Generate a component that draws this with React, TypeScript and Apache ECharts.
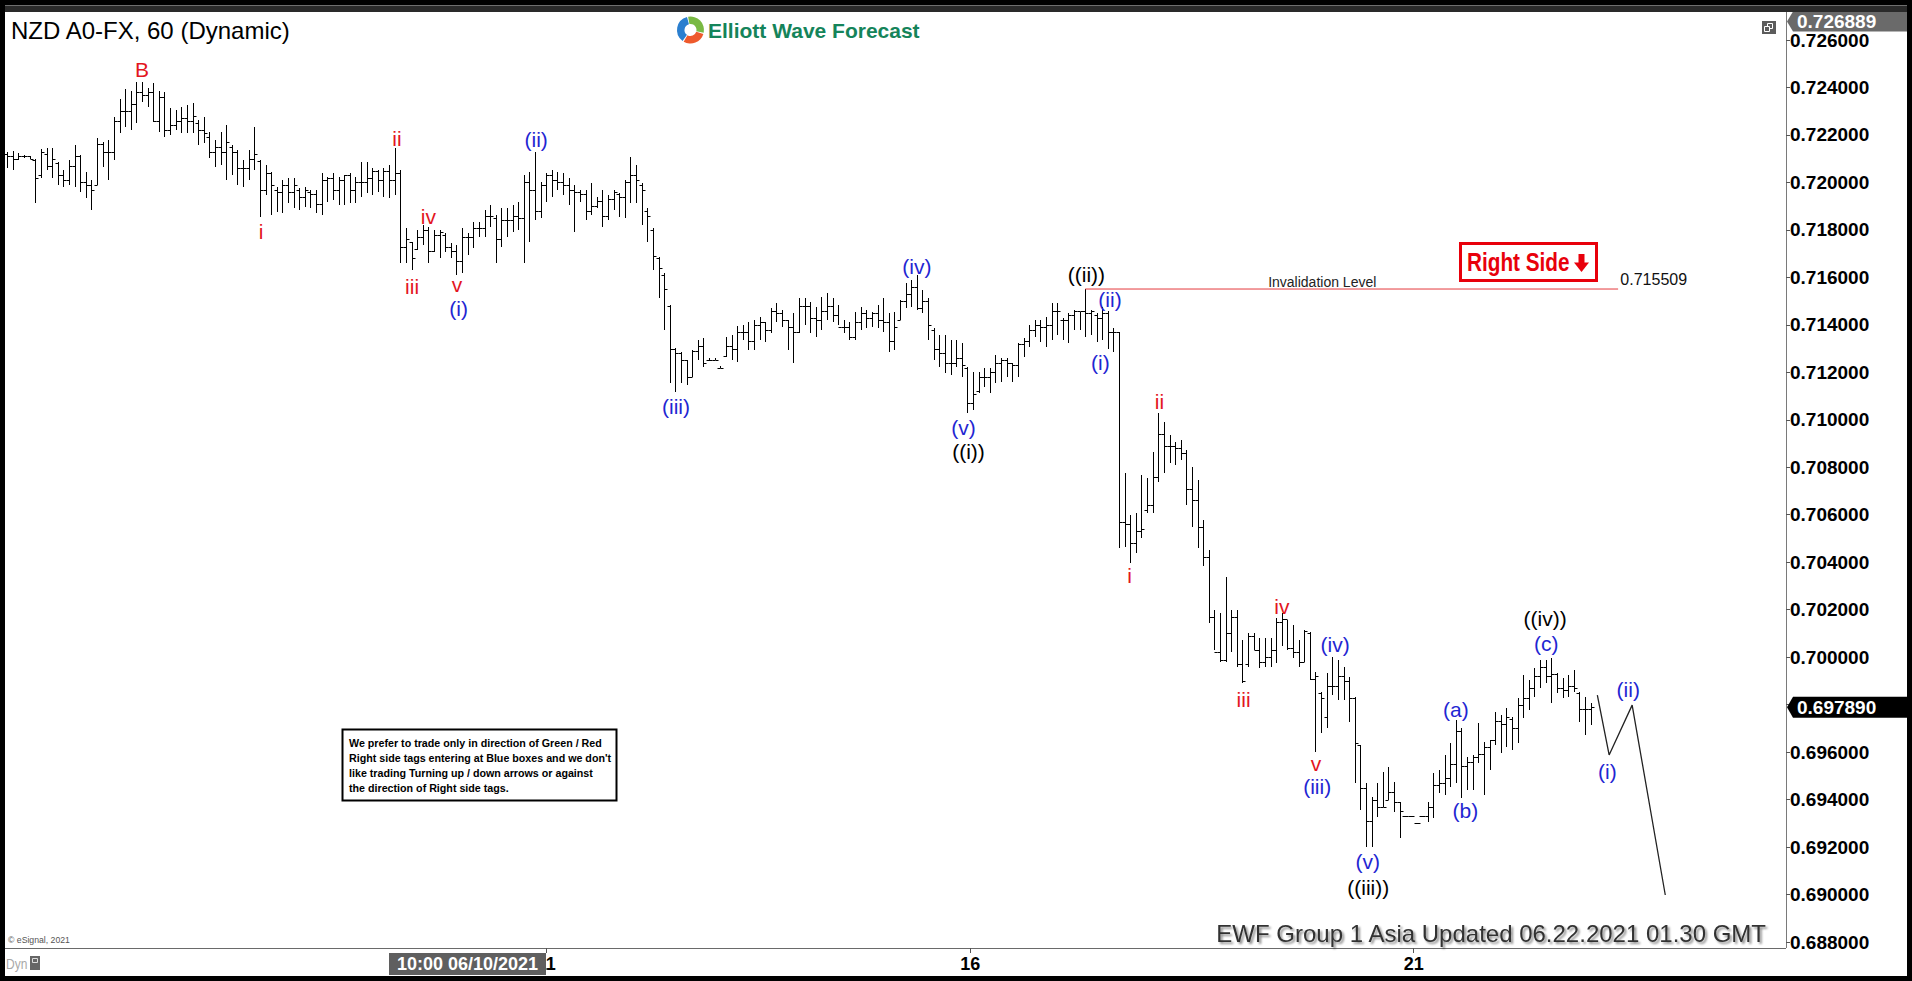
import React, { useEffect, useRef } from "react";
import * as echarts from "echarts";

// ---- hourly OHLC bars (NZD A0-FX, 60 min) ----
const opens = [
  .7212,.7211,.7210,.7211,.7211,.72095,.7203,.7212,.7207,.7208,.7203,.7201,.7207,.7211,.7200,.7199,.7199,.7216,.7213,.7213,
  .7226,.7230,.7230,.7233,.7238,.7237,.7238,.7226,.7236,.7222,.7224,.7226,.7227,.7226,.7225,.7222,.7219,.7213,.7215,.7213,
  .7215,.7213,.7206,.7206,.7210,.7209,.7197,.7204,.7197,.7196,.7199,.7196,.7197,.7194,.7196,.7195,.7191,.7201,.7202,.7197,
  .7201,.7203,.7197,.7200,.7200,.7202,.7205,.7201,.7205,.7201,.7204,.7173,.7175,.7172,.7177,.7180,.7171,.7178,.7178,.7173,
  .7171,.7167,.7177,.7177,.7181,.7181,.7186,.7185,.7176,.7184,.7184,.7186,.7185,.7200,.7197,.7188,.7199,.7203,.7201,.7200,
  .7199,.7197,.7196,.7195,.7188,.7190,.7192,.7186,.7193,.7195,.7194,.7200,.7203,.7199,.7188,.7180,.7168,.7161,.7148,.7130,
  .7128,.7125,.7118,.7129,.7131,.7125,.7125,.7122,.7127,.7131,.7130,.7137,.7137,.7133,.7140,.7141,.7138,.7146,.7145,.7142,
  .7139,.7137,.7148,.7148,.7143,.7142,.7146,.7148,.7144,.7139,.7139,.7135,.7141,.7145,.7143,.7145,.7142,.7141,.7133,.7142,
  .7150,.7153,.7156,.7147,.7150,.7138,.7130,.7128,.7124,.7124,.7126,.7122,.7107,.7112,.7118,.7118,.7120,.7124,.7125,.7124,
  .7123,.7132,.7133,.7138,.7140,.7139,.7140,.7146,.7142,.7142,.7144,.7146,.7146,.7145,.7144,.7143,.7145,.7137,.7137,.7057,
  .7056,.7048,.7053,.7062,.7064,.7076,.7094,.7089,.7089,.7088,.7086,.7071,.7066,.7055,.7042,.7017,.7002,.6999,.7010,.7017,
  .6997,.6997,.7009,.7003,.6998,.7000,.7003,.7015,.7016,.7004,.7002,.6998,.7010,.6991,.6985,.6975,.6988,.6988,.6992,.6990,
  .6983,.6963,.6945,.6931,.6940,.6937,.6940,.6943,.6939,.6933,.6933,.6930,.6933,.6933,.6937,.6946,.6947,.6949,.6955,.6969,
  .6954,.6956,.6958,.6959,.6962,.6965,.6973,.6972,.6974,.6970,.6980,.6983,.6987,.6992,.6996,.6992,.6993,.6987,.6986,.6988,
  .6985,.6978,.6978
];
const highs = [
  .72130,.72134,.72123,.72116,.72112,.72099,.72140,.72144,.72144,.72088,.72052,.72095,.72158,.72116,.72045,.72010,.72186,.72172,.72179,.72277,
  .72350,.72392,.72386,.72424,.72424,.72396,.72417,.72386,.72382,.72312,.72305,.72319,.72326,.72333,.72263,.72274,.72214,.72179,.72214,.72242,
  .72158,.72137,.72095,.72137,.72235,.72095,.72073,.72045,.71982,.72010,.72017,.72017,.71975,.71982,.71968,.71968,.72038,.72024,.72038,.72024,
  .72031,.72038,.72024,.72088,.72088,.72059,.72052,.72059,.72073,.72147,.72052,.71807,.71751,.71800,.71821,.71814,.71800,.71800,.71786,.71744,
  .71736,.71807,.71786,.71835,.71835,.71884,.71905,.71863,.71891,.71891,.71905,.71919,.72031,.72045,.72130,.72003,.72038,.72052,.72045,.72038,
  .72017,.71989,.71968,.71968,.71996,.71940,.71968,.71947,.71968,.71954,.72010,.72109,.72073,.71996,.71891,.71807,.71687,.71617,.71484,.71301,
  .71287,.71252,.71294,.71336,.71343,.71260,.71260,.71228,.71350,.71357,.71395,.71399,.71413,.71420,.71434,.71413,.71470,.71491,.71463,.71420,
  .71448,.71512,.71512,.71498,.71477,.71519,.71533,.71512,.71484,.71420,.71413,.71456,.71477,.71463,.71456,.71484,.71512,.71448,.71456,.71505,
  .71575,.71589,.71610,.71547,.71512,.71385,.71357,.71357,.71336,.71336,.71322,.71224,.71203,.71203,.71217,.71217,.71273,.71259,.71259,.71238,
  .71322,.71343,.71399,.71420,.71420,.71434,.71491,.71491,.71427,.71448,.71463,.71456,.71551,.71463,.71448,.71477,.71460,.71385,.71371,.70775,
  .70599,.70606,.70768,.70754,.70866,.71027,.70992,.70936,.70908,.70915,.70873,.70803,.70746,.70578,.70452,.70199,.70185,.70339,.70199,.70199,
  .70073,.70101,.70101,.70080,.70080,.70080,.70164,.70185,.70157,.70136,.70073,.70115,.70108,.69939,.69855,.69932,.70002,.69988,.69960,.69918,
  .69834,.69630,.69468,.69412,.69468,.69517,.69539,.69476,.69391,.69332,.69332,.69303,.69332,.69391,.69510,.69524,.69588,.69637,.69735,.69700,
  .69581,.69588,.69721,.69644,.69651,.69770,.69756,.69784,.69749,.69827,.69925,.69904,.69953,.69988,.69988,.69995,.69932,.69911,.69925,.69946,
  .69855,.69834,.69806
];
const lows = [
  .72059,.72052,.72095,.72102,.72098,.71912,.72017,.72052,.72017,.71989,.71982,.71989,.71982,.71961,.71933,.71884,.71989,.72066,.72010,.72095,
  .72207,.72235,.72221,.72249,.72340,.72319,.72256,.72214,.72193,.72200,.72221,.72207,.72207,.72207,.72158,.72165,.72102,.72066,.72073,.72010,
  .72031,.71989,.71982,.72010,.72052,.71856,.71947,.71863,.71877,.71870,.71912,.71891,.71884,.71898,.71891,.71870,.71863,.71919,.71926,.71905,
  .71905,.71912,.71912,.71940,.71954,.71947,.71961,.71940,.71933,.71947,.71659,.71659,.71631,.71715,.71736,.71659,.71708,.71680,.71708,.71680,
  .71610,.71617,.71694,.71722,.71772,.71772,.71814,.71659,.71729,.71772,.71793,.71800,.71659,.71751,.71842,.71849,.71919,.71940,.71968,.71947,
  .71905,.71793,.71919,.71842,.71863,.71891,.71814,.71842,.71884,.71856,.71849,.71912,.71912,.71821,.71751,.71631,.71512,.71378,.71154,.71119,
  .71154,.71147,.71182,.71252,.71224,.71248,.71250,.71220,.71266,.71252,.71245,.71336,.71294,.71294,.71336,.71329,.71364,.71413,.71392,.71294,
  .71238,.71364,.71399,.71364,.71350,.71378,.71420,.71413,.71399,.71364,.71336,.71336,.71378,.71385,.71392,.71385,.71371,.71287,.71294,.71420,
  .71470,.71477,.71463,.71448,.71336,.71252,.71224,.71196,.71189,.71224,.71182,.71027,.71041,.71112,.71140,.71112,.71154,.71161,.71182,.71161,
  .71182,.71266,.71308,.71350,.71329,.71308,.71336,.71357,.71336,.71322,.71378,.71378,.71350,.71357,.71329,.71336,.71300,.71287,.70459,.70466,
  .70396,.70438,.70501,.70606,.70606,.70739,.70774,.70817,.70810,.70831,.70641,.70550,.70459,.70382,.70143,.70031,.69981,.69981,.70023,.69960,
  .69890,.69960,.70031,.69953,.69960,.69960,.69974,.70045,.70031,.69995,.69960,.69981,.69904,.69602,.69679,.69700,.69840,.69820,.69820,.69728,
  .69468,.69356,.69202,.69202,.69328,.69370,.69398,.69349,.69237,.69326,.69326,.69297,.69326,.69307,.69321,.69426,.69419,.69454,.69468,.69405,
  .69440,.69440,.69553,.69419,.69525,.69630,.69595,.69623,.69609,.69637,.69742,.69777,.69834,.69869,.69890,.69805,.69848,.69827,.69834,.69855,
  .69728,.69672,.69714
];
const closes = [
  .7211,.7210,.7211,.7211,.7210,.7202,.7213,.7207,.7210,.7203,.7201,.7207,.7211,.7200,.7199,.7197,.7216,.7213,.7213,.7226,
  .7230,.7230,.7233,.7238,.7237,.7238,.7226,.7236,.7222,.7224,.7226,.7227,.7226,.7228,.7222,.7221,.7213,.7215,.7213,.7217,
  .7213,.7206,.7206,.7210,.7212,.7197,.7204,.7199,.7196,.7199,.7196,.7199,.7194,.7197,.7195,.7191,.7201,.7202,.7197,.7201,
  .7203,.7197,.7200,.7200,.7202,.7205,.7201,.7205,.7201,.7204,.7173,.7176,.7168,.7177,.7180,.7171,.7178,.7179,.7173,.7171,
  .7167,.7177,.7177,.7181,.7181,.7186,.7186,.7176,.7184,.7184,.7186,.7185,.7200,.7197,.7188,.7199,.7203,.7201,.7200,.7199,
  .7197,.7196,.7195,.7188,.7190,.7192,.7186,.7193,.7196,.7194,.7200,.7203,.7201,.7197,.7186,.7169,.7164,.7155,.7130,.7128,
  .7125,.7118,.7129,.7131,.7124,.7125,.7125,.7122,.7131,.7130,.7137,.7137,.7133,.7140,.7141,.7138,.7146,.7145,.7142,.7139,
  .7137,.7148,.7148,.7143,.7142,.7146,.7148,.7144,.7139,.7139,.7135,.7141,.7145,.7143,.7145,.7142,.7141,.7133,.7139,.7150,
  .7153,.7156,.7147,.7150,.7140,.7130,.7128,.7124,.7124,.7126,.7123,.7107,.7111,.7118,.7118,.7120,.7124,.7125,.7124,.7123,
  .7132,.7133,.7138,.7140,.7139,.7140,.7146,.7146,.7142,.7144,.7146,.7146,.7145,.7146,.7143,.7145,.7137,.7137,.7057,.7056,
  .7048,.7053,.7054,.7064,.7076,.7094,.7089,.7089,.7088,.7086,.7071,.7066,.7055,.7042,.7017,.7002,.6999,.7010,.7017,.6997,
  .6990,.7009,.7003,.6998,.7000,.7003,.7015,.7016,.7004,.7002,.6998,.7011,.6991,.6992,.6983,.6988,.6988,.6992,.6990,.6983,
  .6964,.6945,.6931,.6940,.6937,.6937,.6943,.6939,.6935,.6933,.6933,.6930,.6933,.6937,.6946,.6947,.6949,.6955,.6969,.6954,
  .6956,.6958,.6959,.6962,.6965,.6973,.6972,.6975,.6970,.6980,.6983,.6987,.6992,.6996,.6992,.6993,.6987,.6986,.6988,.6987,
  .6978,.6978,.69789
];

// ---- axes ----
const priceMin = 0.688;
const priceMax = 0.726;
const priceStep = 0.002;
const dayTickIndex = [96, 171.5, 250.5];
const dayTickLabels = ["11", "16", "21"];
const cursorLabel = "10:00 06/10/2021";

// ---- levels & projection ----
const invalidationLevel = 0.715509;
const invalidationSpan = [192, 286.9];
const lastPrice = 0.69789;
const topPrice = 0.726889;
const projectionIndex = [283.2, 285.3, 289.4, 295.3];
const projectionPrice = [0.6984, 0.69588, 0.69798, 0.68998];

// ---- Elliott wave labels ----
const waveText = ["B","i","ii","iii","iv","v","(i)","(ii)","(iii)","(iv)","(v)","((i))","((ii))","(ii)","(i)","ii","i","iii","iv","v","(iii)","(iv)","(v)","((iii))","(a)","(b)","((iv))","(c)","(i)","(ii)"];
const waveIndex = [24.0,45.2,69.4,72.1,75.0,80.1,80.4,94.2,119.1,162.0,170.3,171.2,192.2,196.4,194.7,205.2,199.9,220.2,227.0,233.1,233.3,236.5,242.3,242.4,258.0,259.7,273.9,274.1,285.0,288.7];
const wavePrice = [.72477,.71792,.72186,.71561,.71856,.71569,.71470,.72179,.71058,.71645,.70968,.70866,.71610,.71505,.71241,.71076,.70342,.69822,.70215,.69554,.69457,.70055,.69138,.69029,.69780,.69353,.70162,.70058,.69517,.69862];
const waveDegree = ["r","r","r","r","r","r","b","b","b","b","b","k","k","b","b","r","r","r","r","r","b","b","b","k","b","b","k","b","b","b"];

const FONT = "'Liberation Sans', Arial, sans-serif";
const DEGREE_COLOR: Record<string, string> = { r: "#e3161e", b: "#1f26d2", k: "#000000" };

export default function App() {
  const ref = useRef<HTMLDivElement>(null);

  useEffect(() => {
    const chart = echarts.init(ref.current as HTMLDivElement, null, { renderer: "svg" });
    const ohlc = opens.map((o, k) => [k, o, highs[k], lows[k], closes[k]]);
    const waveData = waveText.map((_, k) => [waveIndex[k], wavePrice[k]]);
    const projection = projectionIndex.map((x, k) => [x, projectionPrice[k]]);

    chart.setOption({
      animation: false,
      backgroundColor: "#ffffff",
      grid: { left: 5, right: 126, top: 40, bottom: 39 },
      xAxis: {
        type: "value",
        min: -0.4,
        max: 316.8,
        offset: 6,
        axisLine: { show: false, onZero: false },
        splitLine: { show: false },
        axisTick: { show: true, customValues: dayTickIndex, length: 5, lineStyle: { color: "#555" } },
        axisLabel: {
          customValues: dayTickIndex,
          formatter: (v: number) => {
            const k = dayTickIndex.indexOf(v);
            return k >= 0 ? dayTickLabels[k] : "";
          },
          margin: 7,
          color: "#000",
          fontFamily: FONT,
          fontWeight: "bold",
          fontSize: 18,
          lineHeight: 18,
        },
      },
      yAxis: {
        type: "value",
        position: "right",
        min: priceMin,
        max: priceMax,
        interval: priceStep,
        axisLine: { show: false, onZero: false },
        splitLine: { show: false },
        axisTick: { show: true, length: 4, lineStyle: { color: "#555" } },
        axisLabel: {
          margin: 4,
          formatter: (v: number) => (Math.abs(v - lastPrice) < 0.0008 ? "" : v.toFixed(6)),
          color: "#000",
          fontFamily: FONT,
          fontWeight: "bold",
          fontSize: 19,
        },
      },
      series: [
        {
          type: "custom",
          data: ohlc,
          encode: { x: 0, y: [2, 3] },
          silent: true,
          renderItem: (params: any, api: any) => {
            const i = api.value(0);
            const pH = api.coord([i, api.value(2)]);
            const pL = api.coord([i, api.value(3)]);
            const pO = api.coord([i, api.value(1)]);
            const pC = api.coord([i, api.value(4)]);
            const x = Math.round(pH[0]) + 0.5;
            const y1 = Math.round(pH[1]);
            let y2 = Math.round(pL[1]);
            if (y2 - y1 < 1) y2 = y1 + 1;
            const yo = Math.round(pO[1]) + 0.5;
            const yc = Math.round(pC[1]) + 0.5;
            const st = { stroke: "#000", lineWidth: 1 };
            return {
              type: "group",
              children: [
                { type: "line", shape: { x1: x, y1, x2: x, y2 }, style: st },
                { type: "line", shape: { x1: x - 3, y1: yo, x2: x, y2: yo }, style: st },
                { type: "line", shape: { x1: x, y1: yc, x2: x + 3, y2: yc }, style: st },
              ],
            };
          },
        },
        {
          type: "line",
          data: [[invalidationSpan[0], invalidationLevel], [invalidationSpan[1], invalidationLevel]],
          symbol: "none",
          silent: true,
          lineStyle: { color: "#e4393c", width: 1 },
        },
        {
          type: "line",
          data: projection,
          symbol: "none",
          silent: true,
          lineStyle: { color: "#222", width: 1.3 },
        },
        {
          type: "custom",
          data: waveData,
          silent: true,
          renderItem: (params: any, api: any) => {
            const p = api.coord([api.value(0), api.value(1)]);
            const k = params.dataIndex;
            return {
              type: "text",
              x: p[0],
              y: p[1],
              style: {
                text: waveText[k],
                fill: DEGREE_COLOR[waveDegree[k]],
                fontSize: 21,
                fontFamily: FONT,
                align: "center",
                verticalAlign: "middle",
              },
            };
          },
        },
        {
          type: "custom",
          data: [[234.2, 0.71582], [287.3, 0.71593]],
          silent: true,
          renderItem: (params: any, api: any) => {
            const p = api.coord([api.value(0), api.value(1)]);
            const k = params.dataIndex;
            return {
              type: "text",
              x: p[0],
              y: p[1],
              style: k === 0
                ? { text: "Invalidation Level", fill: "#222", fontSize: 14, fontFamily: FONT, align: "center", verticalAlign: "middle" }
                : { text: invalidationLevel.toFixed(6), fill: "#111", fontSize: 16, fontFamily: FONT, align: "left", verticalAlign: "middle" },
            };
          },
        },
      ],
    });

    const lastY = chart.convertToPixel({ yAxisIndex: 0 }, lastPrice) as number;
    const topTagY = 21.5;

    chart.setOption({
      graphic: [
        // axis frame
        { type: "line", shape: { x1: 1786.5, y1: 12, x2: 1786.5, y2: 948 }, style: { stroke: "#7a7a7a", lineWidth: 1 } },
        { type: "line", shape: { x1: 5, y1: 948.5, x2: 1786, y2: 948.5 }, style: { stroke: "#6a6a6a", lineWidth: 1 } },
        // title
        { type: "text", x: 11, y: 30.5, style: { text: "NZD A0-FX, 60 (Dynamic)", fill: "#000", fontSize: 24, fontFamily: FONT, verticalAlign: "middle" } },
        // logo
        { type: "sector", shape: { cx: 690.5, cy: 30, r0: 6, r: 13.5, startAngle: -1.75, endAngle: 0.2 }, style: { fill: "#79b943" } },
        { type: "sector", shape: { cx: 690.5, cy: 30, r0: 6, r: 13.5, startAngle: 0.3, endAngle: 2.1 }, style: { fill: "#ee5a2c" } },
        { type: "sector", shape: { cx: 690.5, cy: 30, r0: 6, r: 13.5, startAngle: 2.2, endAngle: 4.45 }, style: { fill: "#2b7fcf" } },
        { type: "text", x: 708, y: 30, style: { text: "Elliott Wave Forecast", fill: "#15845a", fontSize: 21, fontWeight: "bold", fontFamily: FONT, verticalAlign: "middle" } },
        // window icon
        { type: "rect", shape: { x: 1762, y: 21, width: 14, height: 13 }, style: { fill: "#5c5c5c" } },
        { type: "rect", shape: { x: 1767.5, y: 23.5, width: 5, height: 5 }, style: { fill: "none", stroke: "#fff", lineWidth: 1 } },
        { type: "rect", shape: { x: 1764.5, y: 26.5, width: 5, height: 5 }, style: { fill: "#5c5c5c", stroke: "#fff", lineWidth: 1 } },
        // Right side tag
        { type: "rect", shape: { x: 1460.5, y: 243.5, width: 136, height: 37 }, style: { fill: "#fff", stroke: "#e8000b", lineWidth: 3 } },
        { type: "text", x: 1467, y: 262, scaleX: 0.83, style: { text: "Right Side", fill: "#e8000b", fontSize: 25, fontWeight: "bold", fontFamily: FONT, verticalAlign: "middle" } },
        { type: "rect", shape: { x: 1578.5, y: 254, width: 6, height: 9 }, style: { fill: "#e8000b" } },
        { type: "polygon", shape: { points: [[1574, 262.5], [1589, 262.5], [1581.5, 272]] }, style: { fill: "#e8000b" } },
        // disclaimer
        { type: "rect", shape: { x: 342.5, y: 729.5, width: 274, height: 71 }, style: { fill: "#fff", stroke: "#000", lineWidth: 2 } },
        {
          type: "text", x: 349, y: 735,
          style: {
            text: "We prefer to trade only in direction of Green / Red\nRight side tags entering at Blue boxes and we don't\nlike trading Turning up / down arrows or against\nthe direction of Right side tags.",
            fill: "#000", fontSize: 10.7, fontWeight: "bold", fontFamily: FONT, lineHeight: 15, verticalAlign: "top",
          },
        },
        // footer texts
        { type: "text", x: 8, y: 940, style: { text: "© eSignal, 2021", fill: "#555", fontSize: 8.7, fontFamily: FONT, verticalAlign: "middle" } },
        {
          type: "text", x: 1766, y: 933.5,
          style: {
            text: "EWF Group 1 Asia Updated 06.22.2021 01.30 GMT", fill: "#333", fontSize: 24, fontFamily: FONT,
            align: "right", verticalAlign: "middle", textShadowColor: "rgba(0,0,0,0.45)", textShadowBlur: 2, textShadowOffsetX: 2, textShadowOffsetY: 2,
          },
        },
        { type: "text", x: 6, y: 964, scaleX: 0.8, style: { text: "Dyn", fill: "#a8a8a8", fontSize: 15, fontFamily: FONT, verticalAlign: "middle" } },
        { type: "rect", shape: { x: 30, y: 956, width: 10, height: 14 }, style: { fill: "#666" } },
        { type: "rect", shape: { x: 32.5, y: 958.5, width: 5, height: 4 }, style: { fill: "none", stroke: "#ddd", lineWidth: 1 } },
        // cursor time box
        { type: "rect", z: 50, shape: { x: 389, y: 953, width: 157, height: 22 }, style: { fill: "#5f5f5f" } },
        { type: "text", z: 51, x: 467.5, y: 964, style: { text: cursorLabel, fill: "#fff", fontSize: 18, fontWeight: "bold", fontFamily: FONT, align: "center", verticalAlign: "middle" } },
        // price tags
        { type: "polygon", z: 50, shape: { points: [[1787, topTagY], [1793, topTagY - 10], [1907, topTagY - 10], [1907, topTagY + 10], [1793, topTagY + 10]] }, style: { fill: "#6a6a6a" } },
        { type: "text", z: 51, x: 1797, y: topTagY, style: { text: topPrice.toFixed(6), fill: "#fff", fontSize: 19, fontWeight: "bold", fontFamily: FONT, verticalAlign: "middle" } },
        { type: "polygon", z: 50, shape: { points: [[1787, lastY], [1793, lastY - 10.5], [1907, lastY - 10.5], [1907, lastY + 10.5], [1793, lastY + 10.5]] }, style: { fill: "#000" } },
        { type: "text", z: 51, x: 1797, y: lastY, style: { text: lastPrice.toFixed(6), fill: "#fff", fontSize: 19, fontWeight: "bold", fontFamily: FONT, verticalAlign: "middle" } },
        // outer black frame
        { type: "rect", z: 60, shape: { x: 0, y: 0, width: 1912, height: 12 }, style: { fill: "#000" } },
        { type: "rect", z: 61, shape: { x: 5, y: 5, width: 1902, height: 7 }, style: { fill: "#2a2a2a" } },
        { type: "line", z: 62, shape: { x1: 5, y1: 5.5, x2: 1907, y2: 5.5 }, style: { stroke: "#6e6e6e", lineWidth: 1 } },
        { type: "rect", z: 60, shape: { x: 0, y: 0, width: 5, height: 981 }, style: { fill: "#000" } },
        { type: "rect", z: 60, shape: { x: 1907, y: 0, width: 5, height: 981 }, style: { fill: "#000" } },
        { type: "rect", z: 60, shape: { x: 0, y: 976, width: 1912, height: 5 }, style: { fill: "#000" } },
      ],
    });

    return () => chart.dispose();
  }, []);

  return <div ref={ref} style={{ position: "fixed", left: 0, top: 0, width: 1912, height: 981 }} />;
}
